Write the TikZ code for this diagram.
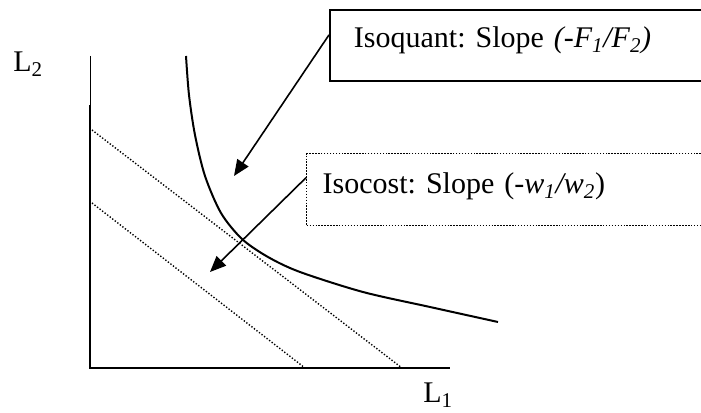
\documentclass[tikz,border=0pt]{standalone}
\usepackage{fontspec}
\setmainfont{Liberation Serif}
\usetikzlibrary{arrows.meta}
\frenchspacing

\begin{document}
\begin{tikzpicture}[x=0.75pt,y=-0.75pt,
      every node/.style={font=\fontsize{22.5}{26}\selectfont},
      axisline/.style={line width=1.5pt},
      budget/.style={dash pattern=on 1pt off 1.4pt, line width=1.05pt},
      isoq/.style={line width=1.5pt},
      ar/.style={-{Triangle[length=12pt,width=10pt]}, line width=1.2pt},
      QB/.style={draw, line width=1.4pt, anchor=north west, align=left,
          inner xsep=18pt, inner ysep=0pt, text width=257pt,
          text height=28.5pt, text depth=24.75pt},
      CB/.style={draw, dash pattern=on 1.1pt off 1.1pt, line width=1.1pt,
          anchor=north west, align=left, inner xsep=12pt, inner ysep=0pt,
          text width=286pt, text height=30pt, text depth=24pt},
    ]
    \clip (0,0) rectangle (701,413);

    % axes
    \coordinate (o) at (90,368);
    \coordinate (ytop) at (90,56);
    \coordinate (ymid) at (90,105);
    \coordinate (xend) at (450,368);
    \draw[line width=0.6pt] (ytop) -- (ymid);
    \draw[axisline] (ymid) -- (o) -- (xend);
    \node[anchor=base west, inner sep=0pt] (l2) at (13,72) {L\textsubscript{2}};
    \node[anchor=base west, inner sep=0pt] (l1) at (423,403) {L\textsubscript{1}};

    % isocost lines
    \coordinate (c1a) at (92,130);
    \coordinate (c1b) at (402,368);
    \coordinate (c2a) at (92,203);
    \coordinate (c2b) at (305,368);
    \draw[budget] (c1a) -- (c1b);
    \draw[budget] (c2a) -- (c2b);

    % isoquant
    \draw[isoq] plot[smooth, tension=0.5] coordinates {(186,56) (189,95) (195,135)
      (205,176) (221,213) (242,239) (268,257) (300,272) (363,292) (430,307) (498,322)};

    % labels
    \node[QB] (iq) at (329,9) {Isoquant: Slope \textit{(-F\textsubscript{1}/F\textsubscript{2})}};
    \node[CB] (ic) at (306,153) {Isocost: Slope (-\textit{w\textsubscript{1}/w\textsubscript{2}})};
    \coordinate (qtip) at (234,176);
    \coordinate (ctip) at (210,272);
    \draw[ar] ([yshift=7.9pt]iq.west) -- (qtip);
    \draw[ar] ([yshift=9pt]ic.west) -- (ctip);
  \end{tikzpicture}
\end{document}
